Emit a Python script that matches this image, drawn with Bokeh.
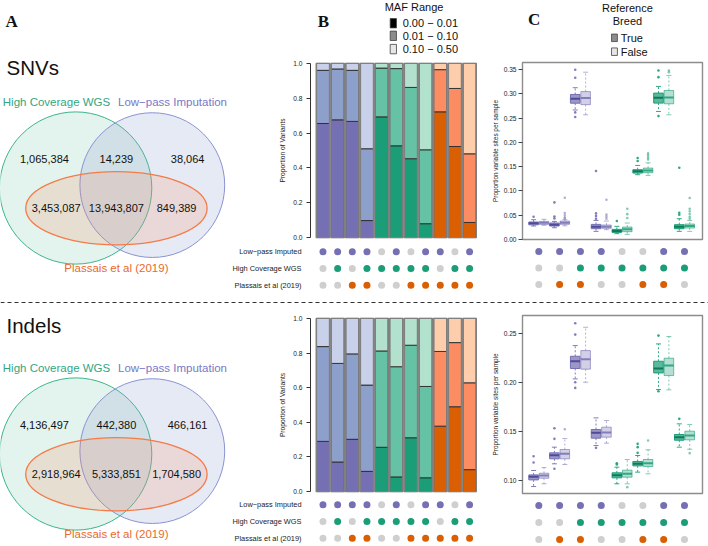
from bokeh.plotting import figure
from bokeh.layouts import row, column
from bokeh.models import (Range1d, FactorRange, FixedTicker, PrintfTickFormatter,
                          Span, ColumnDataSource)
from bokeh.core.properties import value, field
from bokeh.transform import stack
from bokeh.embed import file_html
from bokeh.resources import INLINE

SANS = "Liberation Sans"
SERIF = "Liberation Serif"

# ---------------- data ----------------
venn_set_labels = ["High Coverage WGS", "Low\u2212pass Imputation", "Plassais et al (2019)"]
# regions: HC only, HC&LP, LP only, HC&Plassais, all three, LP&Plassais
snv_venn_counts = [1065384, 14239, 38064, 3453087, 13943807, 849389]
indel_venn_counts = [4136497, 442380, 466161, 2918964, 5333851, 1704580]

bar_group = ["lp", "lp", "lp", "lp", "hc", "hc", "hc", "hc", "pl", "pl", "pl"]
bar_lowpass = [1, 1, 1, 1, 0, 1, 0, 1, 1, 0, 1]
bar_hcwgs = [0, 1, 0, 1, 1, 1, 1, 1, 0, 1, 1]
bar_plassais = [0, 0, 1, 1, 0, 0, 1, 1, 1, 1, 1]

snv_maf_low = [0.655, 0.676, 0.667, 0.098, 0.693, 0.527, 0.453, 0.080, 0.722, 0.523, 0.087]
snv_maf_mid = [0.305, 0.292, 0.293, 0.412, 0.280, 0.443, 0.409, 0.424, 0.242, 0.333, 0.394]
snv_maf_high = [0.040, 0.032, 0.040, 0.490, 0.027, 0.030, 0.138, 0.496, 0.036, 0.144, 0.519]

indel_maf_low = [0.290, 0.171, 0.302, 0.117, 0.256, 0.085, 0.311, 0.080, 0.378, 0.490, 0.127]
indel_maf_mid = [0.547, 0.569, 0.493, 0.498, 0.556, 0.636, 0.534, 0.527, 0.431, 0.370, 0.501]
indel_maf_high = [0.163, 0.260, 0.205, 0.385, 0.188, 0.279, 0.155, 0.393, 0.191, 0.140, 0.372]

maf_labels = ["0.00 \u2212 0.01", "0.01 \u2212 0.10", "0.10 \u2212 0.50"]
row_labels = ["Low\u2212pass Imputed", "High Coverage WGS", "Plassais et al (2019)"]
b_ticks = [0.0, 0.2, 0.4, 0.6, 0.8, 1.0]

box_group = ["lp", "lp", "lp", "lp", "hc", "hc", "hc", "hc"]
box_lowpass = [1, 1, 1, 1, 0, 0, 1, 1]
box_hcwgs = [0, 0, 1, 1, 1, 1, 1, 1]
box_plassais = [0, 1, 1, 0, 0, 1, 1, 0]
ref_breed_labels = ["True", "False"]

snv_true_q1 = [0.0300, 0.0275, 0.281, 0.0220, 0.0144, 0.1368, 0.2812, 0.0220]
snv_true_med = [0.0330, 0.0303, 0.290, 0.0260, 0.0172, 0.1403, 0.2922, 0.0261]
snv_true_q3 = [0.0358, 0.0337, 0.299, 0.0309, 0.0206, 0.1437, 0.3018, 0.0303]
snv_true_lo = [0.0275, 0.0240, 0.267, 0.0165, 0.0117, 0.1334, 0.2640, 0.0165]
snv_true_hi = [0.0406, 0.0370, 0.313, 0.0390, 0.0268, 0.1526, 0.3156, 0.0426]
snv_true_out = [[0.0468], [0.0763, 0.047, 0.043], [0.350, 0.3335, 0.262, 0.2524],
                [0.141, 0.0536, 0.048, 0.0426], [0.0378], [0.1678, 0.1616],
                [0.3486, 0.3348, 0.2544], [0.1478, 0.055, 0.0509]]

snv_false_q1 = [0.0309, 0.0310, 0.278, 0.0227, 0.0158, 0.1375, 0.2798, 0.0234]
snv_false_med = [0.0344, 0.0344, 0.2915, 0.0260, 0.0206, 0.1423, 0.2929, 0.0275]
snv_false_q3 = [0.0371, 0.0378, 0.305, 0.0296, 0.0254, 0.1471, 0.3073, 0.0316]
snv_false_lo = [0.0290, 0.0280, 0.257, 0.0200, 0.0103, 0.1320, 0.2571, 0.0165]
snv_false_hi = [0.0413, 0.0406, 0.345, 0.0378, 0.0337, 0.1580, 0.3383, 0.0390]
snv_false_out = [[], [0.086, 0.0543, 0.0495, 0.045, 0.043], [],
                 [0.0818, 0.051, 0.0468, 0.0426], [0.0633, 0.052, 0.044],
                 [0.1774, 0.1733, 0.169, 0.165], [0.3486, 0.345],
                 [0.0853, 0.0633, 0.0578, 0.0523, 0.0468, 0.0426]]

indel_true_q1 = [0.1003, 0.1218, 0.2140, 0.1429, 0.1024, 0.1146, 0.2095, 0.1408]
indel_true_med = [0.1034, 0.1255, 0.2214, 0.1483, 0.1051, 0.1167, 0.2139, 0.1439]
indel_true_q3 = [0.1054, 0.1279, 0.2265, 0.1517, 0.1075, 0.1191, 0.2214, 0.1466]
indel_true_lo = [0.0935, 0.1167, 0.2034, 0.1354, 0.0963, 0.1082, 0.1925, 0.1337]
indel_true_hi = [0.1099, 0.1337, 0.2374, 0.1636, 0.1133, 0.1252, 0.2391, 0.1575]
indel_true_out = [[0.1245, 0.118], [0.153, 0.1422, 0.1116], [0.2602, 0.2486, 0.200, 0.1942],
                  [0.133], [0.1173, 0.116], [0.1371, 0.1337, 0.1279], [0.2476, 0.1908], [0.1626]]

indel_false_q1 = [0.1020, 0.1218, 0.2133, 0.1439, 0.1031, 0.1140, 0.2068, 0.1412]
indel_false_med = [0.1048, 0.1269, 0.2235, 0.1486, 0.1065, 0.1173, 0.2170, 0.1456]
indel_false_q3 = [0.1071, 0.1313, 0.2323, 0.1541, 0.1102, 0.1211, 0.2245, 0.1500]
indel_false_lo = [0.0963, 0.1160, 0.2000, 0.1378, 0.0963, 0.1065, 0.1922, 0.1316]
indel_false_hi = [0.1129, 0.1425, 0.2561, 0.1609, 0.1211, 0.1310, 0.2466, 0.1568]
indel_false_out = [[], [0.152], [], [], [0.0929], [0.1405], [], [0.1276]]

c_snv_ticks = [0.00, 0.05, 0.10, 0.15, 0.20, 0.25, 0.30, 0.35]
c_indel_ticks = [0.10, 0.15, 0.20, 0.25]

# ---------------- styles ----------------
SHADES = {"lp": ["#7570B3", "#8DA0CB", "#C8D1E9"],
          "hc": ["#1B9E77", "#66C2A5", "#B2E2CD"],
          "pl": ["#D95F02", "#FC8D62", "#FDCDAC"]}
DOT_COLOR = {"lp": "#7570B3", "hc": "#1B9E77", "pl": "#D95F02"}
MED_DARK = {"lp": "#4F4A99", "hc": "#0F7A5A"}
DOT_OFF = "#CFCFCF"

V_W, B_W, C_W = 229, 250, 229
B_XR = Range1d(0.149, 11.54)
C_XR = Range1d(0.217, 8.865)


def base_fig(w, h, xr, yr, left=0, right=0, top=0, bottom=0, yaxis=None):
    p = figure(width=w, height=h, x_range=xr, y_range=yr, output_backend="svg",
               toolbar_location=None, tools="", title_location=None,
               x_axis_location=None, y_axis_location=yaxis,
               min_border_left=left, min_border_right=right,
               min_border_top=top, min_border_bottom=bottom,
               outline_line_color=None)
    p.grid.grid_line_color = None
    return p


def style_axis(ax, ticks, fmt, label, label_standoff, tick_standoff):
    ax.ticker = FixedTicker(ticks=ticks)
    ax.formatter = PrintfTickFormatter(format=fmt)
    ax.axis_label = label
    ax.axis_label_text_font = SANS
    ax.axis_label_text_font_size = "6.7px"
    ax.axis_label_text_font_style = "normal"
    ax.axis_label_text_color = "#222222"
    ax.axis_label_standoff = label_standoff
    ax.major_label_text_font = SANS
    ax.major_label_text_font_size = "6.6px"
    ax.major_label_text_color = "#222222"
    ax.major_label_standoff = tick_standoff
    ax.major_tick_out = 4
    ax.major_tick_in = 0
    ax.minor_tick_line_color = None
    ax.major_tick_line_color = "#444444"


def txt(p, xs, ys, texts, size, color="#111111", align="center", font=SANS, style="normal"):
    p.text(x=xs, y=ys, text=texts, text_font=value(font), text_font_size=value(size),
           text_color=color, text_align=align, text_baseline="middle", text_font_style=style)


# ---------------- Venn ----------------
def venn(h, dy, counts, title, title_y, letter=None):
    p = base_fig(V_W, h, Range1d(0, V_W), Range1d(h, 0))
    p.ellipse(x=[75.2], y=[187.5 + dy], width=[152.2], height=[152.2],
              fill_color="#1B9E77", fill_alpha=0.12, line_color="#3DB48A", line_width=1)
    p.ellipse(x=[151.8], y=[184.6 + dy], width=[144.8], height=[144.8],
              fill_color="#8DA0CB", fill_alpha=0.22, line_color="#8A92D2", line_width=1)
    p.ellipse(x=[115.9], y=[207.7 + dy], width=[181.4], height=[73.3],
              fill_color="#FC8D62", fill_alpha=0.2, line_color="#F47B48", line_width=1.3)
    txt(p, [56.0], [101.0 + dy], [venn_set_labels[0]], "11.5px", "#33A67F")
    txt(p, [172.0], [101.0 + dy], [venn_set_labels[1]], "11.5px", "#7878C8")
    txt(p, [115.9], [267.0 + dy], [venn_set_labels[2]], "11.5px", "#E9692C")
    nx = [43.9, 115.9, 187.1, 55.7, 115.9, 176.1]
    ny = [158.5 + dy] * 3 + [207.0 + dy] * 3
    txt(p, nx, ny, [f"{c:,}" for c in counts], "11px", "#111111")
    txt(p, [6.0], [title_y], [title], "20.5px", "#111111", align="left")
    if letter:
        txt(p, [5.0], [21.0], [letter], "17px", "#111111", align="left", font=SERIF, style="bold")
    return p


venn_top = venn(295, 0.0, snv_venn_counts, "SNVs", 66.5, "A")
venn_bot = venn(237, -43.0, indel_venn_counts, "Indels", 16.0)


# ---------------- B panel ----------------
def bar_fig(h, top, bottom, low, mid, high):
    p = base_fig(B_W, h, B_XR, Range1d(-0.005, 1.005), left=74, right=2,
                 top=top, bottom=bottom, yaxis="left")
    src = ColumnDataSource(dict(
        x=list(range(1, len(low) + 1)), low=low, mid=mid, high=high,
        c_low=[SHADES[g][0] for g in bar_group],
        c_mid=[SHADES[g][1] for g in bar_group],
        c_high=[SHADES[g][2] for g in bar_group]))
    kw = dict(x="x", width=0.9, source=src, line_color="#2A2A2A", line_width=0.9)
    p.vbar(bottom=0, top=stack("low"), fill_color=field("c_low"), **kw)
    p.vbar(bottom=stack("low"), top=stack("low", "mid"), fill_color=field("c_mid"), **kw)
    p.vbar(bottom=stack("low", "mid"), top=stack("low", "mid", "high"), fill_color=field("c_high"), **kw)
    p.vbar(x="x", width=0.9, bottom=0, top=stack("low", "mid", "high"), source=src,
           fill_color=None, line_color="#808080", line_width=1.5)
    ax = p.yaxis[0]
    style_axis(ax, b_ticks, "%.1f", "Proportion of Variants", 4, 4)
    ax.bounds = (0, 1)
    ax.axis_line_color = "#333333"
    ax.major_tick_line_color = "#333333"
    return p


def member_dots(n, memberships):
    xs, ys, cs = [], [], []
    for r, mem in enumerate(memberships):
        for i in range(n):
            xs.append(i + 1)
            ys.append(r)
            cs.append(DOT_COLOR[["lp", "hc", "pl"][r]] if mem[i] else DOT_OFF)
    return xs, ys, cs


def b_dots_fig(h, bottom):
    p = base_fig(B_W, h, B_XR, FactorRange(factors=row_labels[::-1]), left=74, right=2,
                 top=0, bottom=bottom, yaxis="left")
    xs, ys, cs = member_dots(11, [bar_lowpass, bar_hcwgs, bar_plassais])
    p.scatter(x=xs, y=[row_labels[r] for r in ys], color=cs, size=7, line_color=None)
    ax = p.yaxis[0]
    ax.axis_line_color = None
    ax.major_tick_line_color = None
    ax.minor_tick_line_color = None
    ax.major_label_standoff = 3
    ax.major_label_text_font = SANS
    ax.major_label_text_font_size = "7.4px"
    ax.major_label_text_color = "#1A1A1A"
    return p


# legend figure for B (MAF range key)
b_leg = base_fig(B_W, 56, Range1d(0, B_W), Range1d(56, 0))
b_leg.rect(x=[124.0] * 3, y=[22.7, 35.3, 48.6], width=9.4, height=9.4,
           fill_color=["#000000", "#8C8C8C", "#E6E6E6"], line_color="#444444", line_width=0.8)
txt(b_leg, [138.0] * 3, [22.7, 35.3, 48.6], maf_labels, "11px", align="left")
txt(b_leg, [155.0], [6.2], ["MAF Range"], "11px")
txt(b_leg, [11.0], [21.0], ["B"], "17px", font=SERIF, style="bold", align="left")

b_bar_top = bar_fig(187, 6, 5, snv_maf_low, snv_maf_mid, snv_maf_high)
b_dots_top = b_dots_fig(52, 2)
b_bar_bot = bar_fig(187, 8, 4, indel_maf_low, indel_maf_mid, indel_maf_high)
b_dots_bot = b_dots_fig(50, 0)


# ---------------- C panel ----------------
def box_fig(h, top, bottom, yr, ticks, true_stats, false_stats):
    p = base_fig(C_W, h, C_XR, yr, left=43, right=6, top=top, bottom=bottom, yaxis="left")
    p.outline_line_color = "#8C8C8C"
    p.outline_line_width = 1.4
    for stats, off, dark in ((true_stats, -0.25, True), (false_stats, 0.25, False)):
        q1, med, q3, lo, hi, outs = stats
        xs = [i + 1 + off for i in range(len(q1))]
        col = [DOT_COLOR[g] for g in box_group]
        medc = [MED_DARK[g] for g in box_group] if dark else col
        src = ColumnDataSource(dict(x=xs, q1=q1, med=med, q3=q3, lo=lo, hi=hi, col=col, medc=medc,
                                    xl=[x - 0.23 for x in xs], xr=[x + 0.23 for x in xs],
                                    cl=[x - 0.12 for x in xs], cr=[x + 0.12 for x in xs]))
        wa = 0.9 if dark else 0.55
        p.segment(x0="x", x1="x", y0="q3", y1="hi", source=src, line_color="col",
                  line_alpha=wa, line_width=1, line_dash="2 2")
        p.segment(x0="x", x1="x", y0="q1", y1="lo", source=src, line_color="col",
                  line_alpha=wa, line_width=1, line_dash="2 2")
        p.segment(x0="cl", x1="cr", y0="hi", y1="hi", source=src, line_color="col", line_alpha=wa, line_width=1)
        p.segment(x0="cl", x1="cr", y0="lo", y1="lo", source=src, line_color="col", line_alpha=wa, line_width=1)
        p.vbar(x="x", bottom="q1", top="q3", width=0.46, source=src, fill_color="col",
               fill_alpha=0.72 if dark else 0.33, line_color="col", line_alpha=1.0 if dark else 0.6,
               line_width=1)
        p.segment(x0="xl", x1="xr", y0="med", y1="med", source=src, line_color="medc",
                  line_width=2, line_alpha=1.0 if dark else 0.85)
        ox, oy, oc = [], [], []
        for i, vals in enumerate(outs):
            for v in vals:
                ox.append(xs[i])
                oy.append(v)
                oc.append(col[i])
        p.scatter(x=ox, y=oy, color=oc, size=2.6, alpha=0.9 if dark else 0.55, line_color=None)
    ax = p.yaxis[0]
    style_axis(ax, ticks, "%.2f", "Proportion variable sites per sample", 2, 2)
    ax.axis_line_color = None
    ax.axis_label_text_font_size = "6.4px"
    return p


def c_dots_fig(h, yr):
    p = base_fig(C_W, h, C_XR, yr, left=43, right=6)
    xs, ys, cs = member_dots(8, [box_lowpass, box_hcwgs, box_plassais])
    p.scatter(x=xs, y=ys, color=cs, size=7, line_color=None)
    return p


# legend figure for C (reference breed key)
c_leg = base_fig(C_W, 58, Range1d(0, C_W), Range1d(58, 0))
c_leg.rect(x=[117.0] * 2, y=[37.3, 51.2], width=7.5, height=7.5,
           fill_color=["#8C8C8C", "#E6E6E6"], line_color="#444444", line_width=0.8)
txt(c_leg, [125.0] * 2, [37.3, 51.2], ref_breed_labels, "11px", align="left")
txt(c_leg, [133.5, 133.5], [7.0, 20.5], ["Reference", "Breed"], "11px")
txt(c_leg, [7.0], [19.0], ["C"], "17px", font=SERIF, style="bold", align="left")

c_box_top = box_fig(185, 4, 4, Range1d(-0.0003, 0.365), c_snv_ticks,
                    (snv_true_q1, snv_true_med, snv_true_q3, snv_true_lo, snv_true_hi, snv_true_out),
                    (snv_false_q1, snv_false_med, snv_false_q3, snv_false_lo, snv_false_hi, snv_false_out))
c_dots_top = c_dots_fig(52, Range1d(2.667, -0.485))
c_box_bot = box_fig(187, 6, 3, Range1d(0.0864, 0.2681), c_indel_ticks,
                    (indel_true_q1, indel_true_med, indel_true_q3, indel_true_lo, indel_true_hi, indel_true_out),
                    (indel_false_q1, indel_false_med, indel_false_q3, indel_false_lo, indel_false_hi, indel_false_out))
c_dots_bot = c_dots_fig(50, Range1d(2.41, -0.53))

# ---------------- separator ----------------
sep = base_fig(V_W + B_W + C_W, 14, Range1d(0, 1), Range1d(0, 14))
sep.add_layout(Span(location=7, dimension="width", line_color="#333333",
                    line_width=1, line_dash="4 3"))

top_row = row(venn_top, column(b_leg, b_bar_top, b_dots_top), column(c_leg, c_box_top, c_dots_top))
bot_row = row(venn_bot, column(b_bar_bot, b_dots_bot), column(c_box_bot, c_dots_bot))
layout = column(top_row, sep, bot_row)

open("out.html", "w").write(file_html(layout, INLINE))
